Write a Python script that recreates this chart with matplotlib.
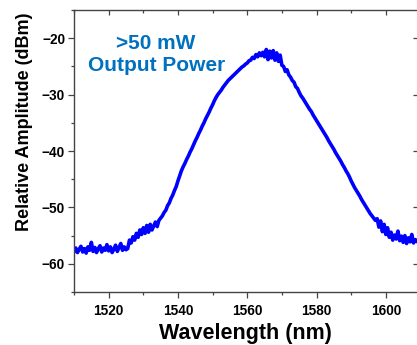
import numpy as np
import matplotlib
matplotlib.use("Agg")
import matplotlib.pyplot as plt

plt.rcParams['font.family'] = ['Liberation Sans', 'DejaVu Sans']
plt.rcParams['font.weight'] = 'bold'

wl_start = 1510.0
wl_step = 0.5
amplitude = [
    -57.8, -57.2, -58.0, -57.4, -56.9, -57.9, -57.3, -58.1, -57.0, -57.6,
    -56.2, -57.8, -57.1, -58.0, -57.3, -56.8, -57.9, -57.2, -57.6, -56.6,
    -57.7, -57.0, -58.0, -57.4, -56.7, -57.8, -57.1, -56.4, -57.6, -57.0,
    -57.5, -57.3, -55.8, -56.3, -55.2, -55.8, -54.6, -55.3, -54.0, -54.8,
    -53.6, -54.6, -53.2, -54.4, -53.0, -54.0, -53.3, -52.6, -53.4, -52.3,
    -51.9, -51.5, -50.9, -50.5, -49.7, -49.2, -48.4, -47.8, -47.0, -46.3,
    -45.3, -44.4, -43.5, -42.8, -42.2, -41.5, -40.9, -40.2, -39.6, -38.9,
    -38.2, -37.6, -36.9, -36.3, -35.6, -35.0, -34.3, -33.7, -33.1, -32.4,
    -31.8, -31.1, -30.5, -30.0, -29.6, -29.2, -28.7, -28.3, -27.9, -27.5,
    -27.2, -26.9, -26.6, -26.3, -26.0, -25.7, -25.4, -25.1, -24.9, -24.6,
    -24.4, -24.0, -23.9, -23.4, -23.6, -22.9, -23.3, -22.6, -23.1, -22.5,
    -23.3, -22.0, -23.8, -22.3, -23.5, -22.2, -23.9, -22.6, -24.1, -23.0,
    -24.8, -25.0, -25.9, -25.6, -26.5, -26.9, -27.5, -27.8, -28.6, -28.9,
    -29.6, -30.2, -30.6, -31.1, -31.6, -32.1, -32.6, -33.0, -33.6, -34.1,
    -34.6, -35.1, -35.6, -36.1, -36.6, -37.1, -37.6, -38.2, -38.7, -39.2,
    -39.7, -40.3, -40.8, -41.3, -41.8, -42.4, -42.9, -43.5, -44.0, -44.6,
    -45.3, -45.9, -46.5, -47.0, -47.5, -48.0, -48.6, -49.1, -49.6, -50.1,
    -50.6, -51.1, -51.5, -51.9, -52.3, -52.0, -53.5, -52.4, -54.3, -53.0,
    -54.8, -53.6, -55.3, -54.4, -55.8, -54.9, -55.6, -54.2, -55.9, -55.1,
    -56.2, -55.0, -56.4, -55.4, -56.1, -54.8, -56.3, -55.7, -56.0,
]
wavelength = wl_start + wl_step * np.arange(len(amplitude))

x_ticks = [1520, 1540, 1560, 1580, 1600]
y_ticks = [-20, -30, -40, -50, -60]
annotation = ">50 mW\nOutput Power"

fig = plt.figure(figsize=(4.17, 3.45), dpi=100)
ax = fig.add_axes([0.1775, 0.1536, 0.8225, 0.8174])

ax.plot(wavelength, amplitude, color='#0000FF', lw=2.6)

ax.set_xlim(1510, 1609)
ax.set_ylim(-65, -15)
ax.set_xticks(x_ticks)
ax.set_yticks(y_ticks)
ax.set_xticks(np.arange(1510, 1610, 10), minor=True)
ax.set_yticks(np.arange(-65, -14, 5), minor=True)

spine_c = '#444444'
for s in ['left', 'bottom', 'top']:
    ax.spines[s].set_color(spine_c)
    ax.spines[s].set_linewidth(1.0)
ax.spines['right'].set_visible(False)

ax.tick_params(which='major', direction='out', length=4.5, width=0.9,
               color=spine_c, labelsize=9.8, pad=2)
ax.tick_params(which='minor', direction='out', length=2.5, width=0.9,
               color=spine_c)
ax.tick_params(axis='x', which='major', pad=4)

top = ax.secondary_xaxis('top')
top.set_xticks(x_ticks)
top.set_xticks(np.arange(1510, 1610, 10), minor=True)
top.tick_params(which='major', direction='in', length=3.5, width=0.9,
                color=spine_c, labeltop=False)
top.tick_params(which='minor', direction='in', length=2.5, width=0.9,
                color=spine_c)
top.spines['top'].set_visible(False)

right = ax.secondary_yaxis('right')
right.set_yticks(y_ticks)
right.tick_params(direction='in', length=3, width=0.9, color=spine_c,
                  labelright=False)
right.spines['right'].set_visible(False)

ax.set_xlabel('Wavelength (nm)', fontsize=15.5, fontweight='bold', labelpad=4)
ax.set_ylabel('Relative Amplitude (dBm)', fontsize=13, fontweight='bold')
ax.yaxis.set_label_coords(-0.12, 0.603)

ax.text(1533.7, -22.9, annotation, color='#0070C0', fontsize=15,
        fontweight='bold', ha='center', va='center', linespacing=1.15)

fig.savefig('out.png', dpi=100)
